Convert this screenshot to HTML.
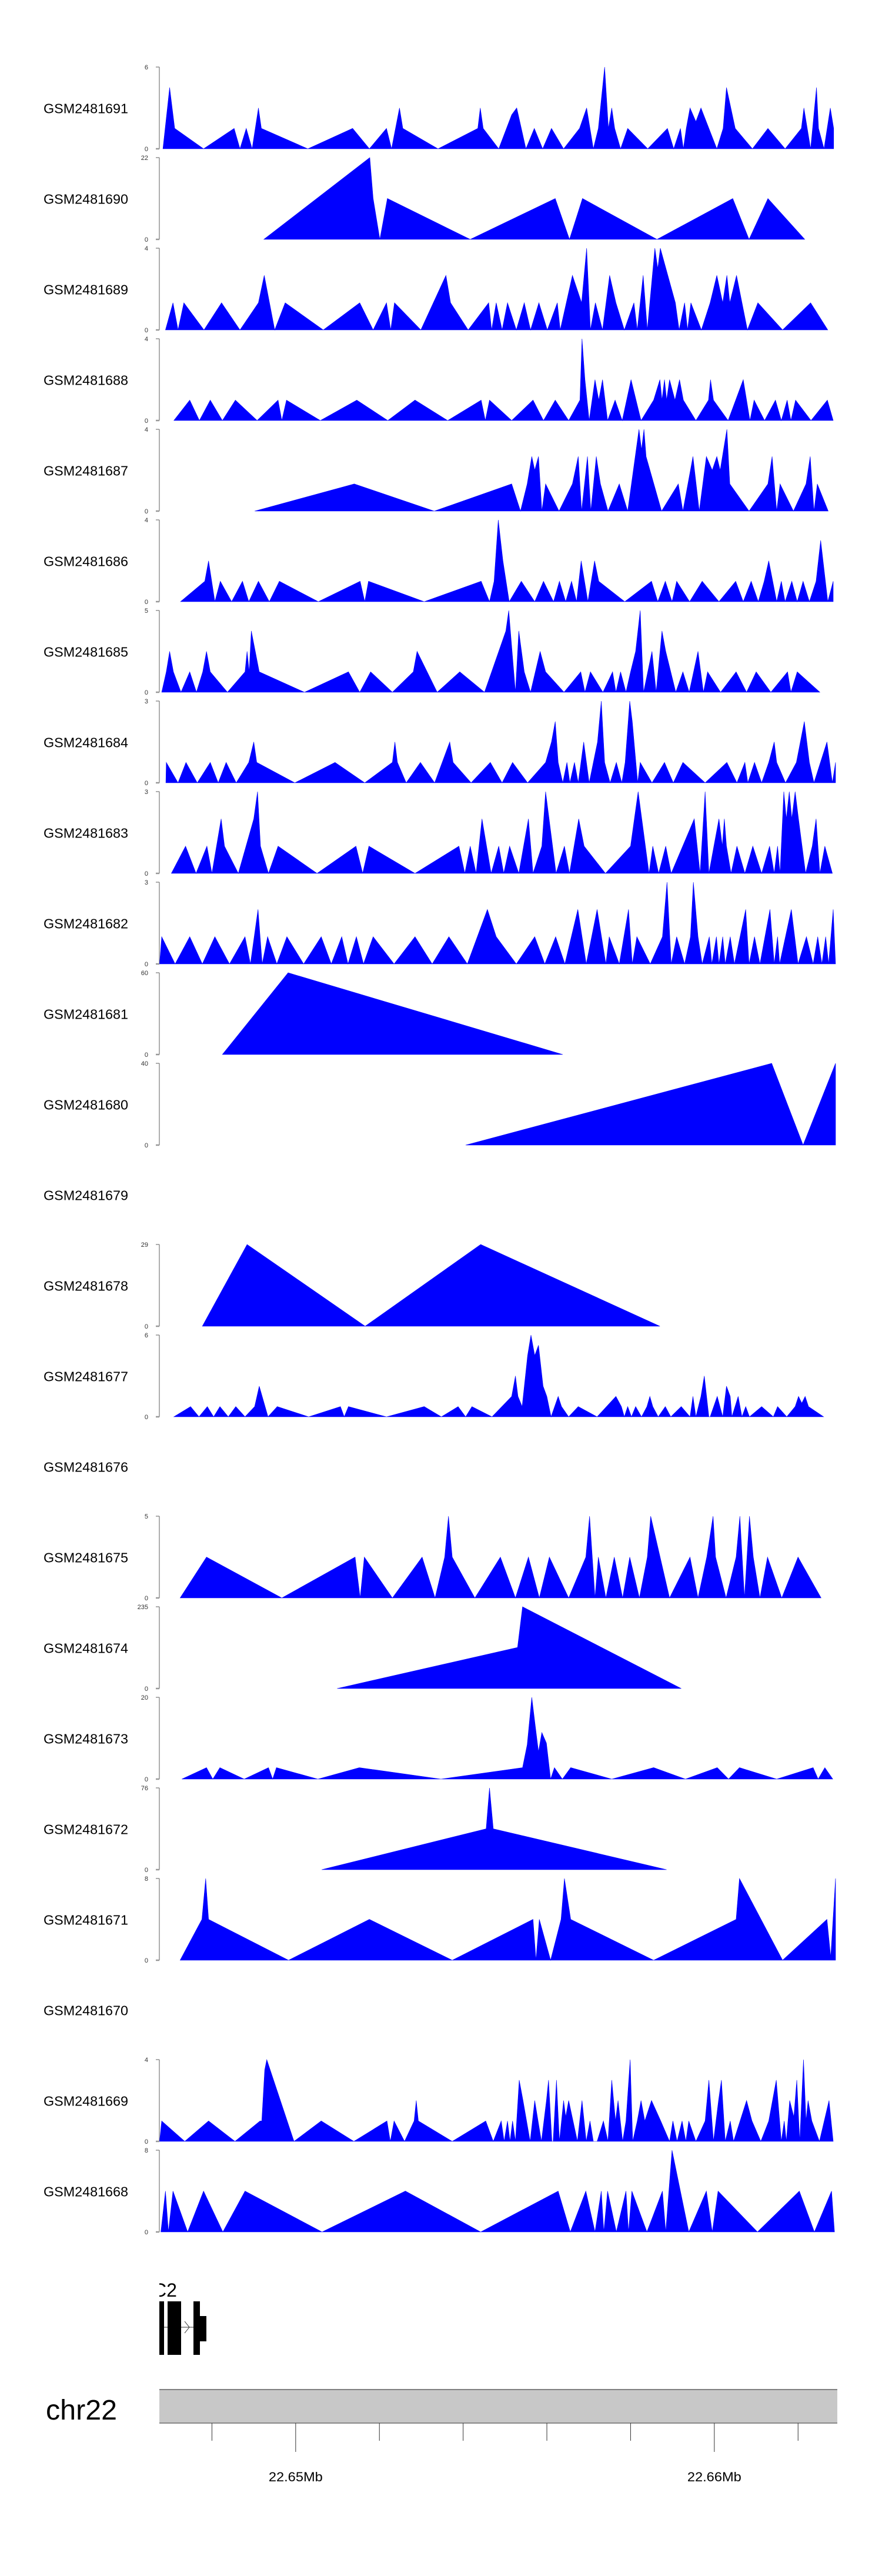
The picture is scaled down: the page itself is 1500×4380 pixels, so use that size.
<!DOCTYPE html>
<html><head><meta charset="utf-8"><title>GSM coverage tracks chr22</title>
<style>html,body{margin:0;padding:0;background:#fff}svg{display:block}</style></head>
<body>
<svg id="chart" xmlns="http://www.w3.org/2000/svg" width="1500" height="4380" viewBox="0 0 1500 4380" font-family="Liberation Sans, sans-serif"></svg>
<script>
// ---- data (positions in kb from chr22:22,646,800; values = coverage) ----
const trackNames = ["GSM2481691","GSM2481690","GSM2481689","GSM2481688","GSM2481687","GSM2481686","GSM2481685","GSM2481684","GSM2481683","GSM2481682","GSM2481681","GSM2481680","GSM2481679","GSM2481678","GSM2481677","GSM2481676","GSM2481675","GSM2481674","GSM2481673","GSM2481672","GSM2481671","GSM2481670","GSM2481669","GSM2481668"];
const trackMax = [6,22,4,4,4,4,5,3,3,3,60,40,0,29,6,0,5,235,20,76,8,0,4,8];
const regionStartKb = 22646.8;
const axisTicksMb = [22.648,22.65,22.652,22.654,22.656,22.658,22.66,22.662];
const axisLabelsMb = ["","22.65Mb","","","","","22.66Mb",""];

const t91=[[0.03,0],[0.19,4.5],[0.31,1.5],[1.0,0],[1.73,1.5],[1.87,0],[2.02,1.5],[2.16,0],[2.31,3],[2.38,1.5],[3.49,0],[4.56,1.5],[4.96,0],[5.37,1.5],[5.49,0],[5.68,3],[5.76,1.5],[6.6,0],[7.55,1.5],[7.61,3],[7.68,1.5],[8.05,0],[8.36,2.5],[8.48,3],[8.7,0],[8.9,1.5],[9.1,0],[9.31,1.5],[9.6,0],[9.98,1.5],[10.15,3],[10.31,0],[10.43,1.5],[10.58,6],[10.67,1.5],[10.75,3],[10.82,1.5],[10.96,0],[11.13,1.5],[11.61,0],[12.08,1.5],[12.23,0],[12.39,1.5],[12.46,0],[12.53,1.5],[12.62,3],[12.76,2],[12.88,3],[13.26,0],[13.41,1.5],[13.49,4.5],[13.7,1.5],[14.11,0],[14.48,1.5],[14.89,0],[15.28,1.5],[15.34,3],[15.5,0],[15.64,4.5],[15.69,1.5],[15.82,0],[15.97,3],[16.05,1.5]];
const t90=[[2.44,0],[4.97,22],[5.05,11],[5.21,0],[5.39,11],[7.37,0],[9.40,11],[9.74,0],[10.05,11],[11.83,0],[13.64,11],[14.03,0],[14.48,11],[15.36,0]];
const t89=[[0.09,0],[0.27,1.33],[0.39,0],[0.53,1.33],[1.01,0],[1.43,1.33],[1.87,0],[2.31,1.33],[2.45,2.67],[2.70,0],[2.95,1.33],[3.86,0],[4.73,1.33],[5.05,0],[5.37,1.33],[5.47,0],[5.56,1.33],[6.19,0],[6.79,2.67],[6.90,1.33],[7.32,0],[7.81,1.33],[7.88,0],[7.99,1.33],[8.13,0],[8.26,1.33],[8.47,0],[8.66,1.33],[8.81,0],[9.01,1.33],[9.21,0],[9.45,1.33],[9.52,0],[9.81,2.67],[10.03,1.33],[10.15,4],[10.24,0],[10.36,1.33],[10.53,0],[10.70,2.67],[10.85,1.33],[11.05,0],[11.28,1.33],[11.36,0],[11.50,2.67],[11.60,0],[11.78,4],[11.85,3],[11.91,4],[12.27,1.33],[12.36,0],[12.49,1.33],[12.56,0],[12.64,1.33],[12.89,0],[13.10,1.33],[13.26,2.67],[13.40,1.33],[13.50,2.67],[13.57,1.33],[13.73,2.67],[13.99,0],[14.24,1.33],[14.83,0],[15.50,1.33],[15.91,0]];
const t88=[[0.29,0],[0.67,1],[0.90,0],[1.16,1],[1.45,0],[1.76,1],[2.28,0],[2.78,1],[2.87,0],[2.98,1],[3.79,0],[4.66,1],[5.40,0],[6.05,1],[6.83,0],[7.63,1],[7.73,0],[7.83,1],[8.36,0],[8.87,1],[9.12,0],[9.40,1],[9.72,0],[9.99,1],[10.04,4],[10.11,2],[10.21,0],[10.35,2],[10.44,1],[10.53,2],[10.65,0],[10.83,1],[11.00,0],[11.21,2],[11.45,0],[11.75,1],[11.90,2],[11.95,1],[12.01,2],[12.06,1],[12.13,2],[12.26,1],[12.37,2],[12.46,1],[12.76,0],[13.06,1],[13.11,2],[13.18,1],[13.53,0],[13.89,2],[14.05,0],[14.15,1],[14.40,0],[14.66,1],[14.80,0],[14.94,1],[15.03,0],[15.14,1],[15.51,0],[15.90,1],[16.04,0]];
const t87=[[2.22,0],[4.60,1.33],[6.51,0],[8.36,1.33],[8.57,0],[8.73,1.33],[8.84,2.67],[8.91,2],[9.00,2.67],[9.08,0],[9.17,1.33],[9.49,0],[9.81,1.33],[9.95,2.67],[10.03,0],[10.17,2.67],[10.25,0],[10.38,2.67],[10.48,1.33],[10.66,0],[10.93,1.33],[11.13,0],[11.22,1.33],[11.40,4],[11.46,3],[11.52,4],[11.57,2.67],[11.94,0],[12.34,1.33],[12.45,0],[12.69,2.67],[12.84,0],[13.01,2.67],[13.15,2],[13.26,2.67],[13.34,2],[13.50,4],[13.57,1.33],[14.03,0],[14.48,1.33],[14.58,2.67],[14.69,0],[14.77,1.33],[15.09,0],[15.39,1.33],[15.49,2.67],[15.58,0],[15.66,1.33],[15.92,0]];
const t86=[[0.45,0],[1.03,1],[1.12,2],[1.27,0],[1.40,1],[1.67,0],[1.93,1],[2.08,0],[2.31,1],[2.57,0],[2.81,1],[3.74,0],[4.74,1],[4.85,0],[4.94,1],[6.27,0],[7.63,1],[7.83,0],[7.94,1],[8.04,4],[8.15,2],[8.30,0],[8.59,1],[8.91,0],[9.12,1],[9.36,0],[9.50,1],[9.65,0],[9.79,1],[9.91,0],[10.02,2],[10.18,0],[10.34,2],[10.44,1],[11.06,0],[11.70,1],[11.85,0],[12.03,1],[12.19,0],[12.30,1],[12.61,0],[12.91,1],[13.31,0],[13.71,1],[13.89,0],[14.08,1],[14.25,0],[14.39,1],[14.50,2],[14.69,0],[14.80,1],[14.89,0],[15.05,1],[15.18,0],[15.32,1],[15.47,0],[15.63,1],[15.74,3],[15.91,0],[16.04,1]];
const t85=[[0.0,0],[0.11,1.25],[0.19,2.5],[0.28,1.25],[0.46,0],[0.67,1.25],[0.83,0],[0.98,1.25],[1.07,2.5],[1.16,1.25],[1.57,0],[1.99,1.25],[2.04,2.5],[2.09,1.25],[2.14,3.75],[2.33,1.25],[3.41,0],[4.46,1.25],[4.73,0],[4.99,1.25],[5.51,0],[6.01,1.25],[6.10,2.5],[6.58,0],[7.12,1.25],[7.71,0],[8.22,3.75],[8.29,5],[8.45,0],[8.53,3.75],[8.66,1.25],[8.81,0],[9.04,2.5],[9.17,1.25],[9.61,0],[10.01,1.25],[10.11,0],[10.24,1.25],[10.54,0],[10.77,1.25],[10.85,0],[10.96,1.25],[11.09,0],[11.20,1.25],[11.32,2.5],[11.43,5],[11.51,0],[11.71,2.5],[11.81,0],[11.95,3.75],[12.04,2.5],[12.28,0],[12.45,1.25],[12.60,0],[12.81,2.5],[12.94,0],[13.04,1.25],[13.35,0],[13.72,1.25],[13.97,0],[14.20,1.25],[14.55,0],[14.95,1.25],[15.03,0],[15.18,1.25],[15.72,0]];
const t84=[[0.10,0],[0.11,0.75],[0.39,0],[0.58,0.75],[0.85,0],[1.16,0.75],[1.35,0],[1.54,0.75],[1.78,0],[2.08,0.75],[2.20,1.5],[2.27,0.75],[3.18,0],[4.14,0.75],[4.85,0],[5.51,0.75],[5.57,1.5],[5.63,0.75],[5.84,0],[6.18,0.75],[6.52,0],[6.88,1.5],[6.96,0.75],[7.39,0],[7.85,0.75],[8.13,0],[8.38,0.75],[8.74,0],[9.17,0.75],[9.31,1.5],[9.40,2.25],[9.47,0.75],[9.58,0],[9.68,0.75],[9.75,0],[9.86,0.75],[9.95,0],[10.08,1.5],[10.21,0],[10.41,1.5],[10.50,3],[10.58,0.75],[10.71,0],[10.86,0.75],[10.99,0],[11.07,0.75],[11.18,3],[11.24,2.25],[11.37,0],[11.43,0.75],[11.71,0],[12.01,0.75],[12.22,0],[12.45,0.75],[12.98,0],[13.50,0.75],[13.74,0],[13.93,0.75],[14.00,0],[14.16,0.75],[14.33,0],[14.50,0.75],[14.63,1.5],[14.69,0.75],[14.90,0],[15.16,0.75],[15.35,2.25],[15.47,0.75],[15.58,0],[15.89,1.5],[16.02,0],[16.10,0.75]];
const t83=[[0.23,0],[0.57,1],[0.82,0],[1.08,1],[1.20,0],[1.42,2],[1.50,1],[1.83,0],[2.20,2],[2.29,3],[2.36,1],[2.55,0],[2.78,1],[3.71,0],[4.64,1],[4.80,0],[4.95,1],[6.05,0],[7.10,1],[7.24,0],[7.37,1],[7.51,0],[7.65,2],[7.87,0],[8.05,1],[8.17,0],[8.31,1],[8.53,0],[8.76,2],[8.87,0],[9.08,1],[9.17,3],[9.42,0],[9.62,1],[9.74,0],[9.96,2],[10.09,1],[10.60,0],[11.20,1],[11.38,3],[11.64,0],[11.73,1],[11.87,0],[12.04,1],[12.17,0],[12.72,2],[12.86,0],[12.98,3],[13.07,0],[13.19,1],[13.31,2],[13.39,1],[13.44,2],[13.49,1],[13.60,0],[13.74,1],[13.93,0],[14.12,1],[14.33,0],[14.52,1],[14.63,0],[14.71,1],[14.77,0],[14.86,3],[14.92,2],[14.99,3],[15.05,2],[15.13,3],[15.21,2],[15.38,0],[15.54,1],[15.63,2],[15.72,0],[15.84,1],[16.02,0]];
const t82=[[-0.05,0],[0.0,1],[0.32,0],[0.67,1],[0.97,0],[1.27,1],[1.62,0],[1.99,1],[2.12,0],[2.30,2],[2.40,0],[2.53,1],[2.75,0],[2.99,1],[3.39,0],[3.81,1],[4.05,0],[4.30,1],[4.45,0],[4.65,1],[4.82,0],[5.05,1],[5.55,0],[6.05,1],[6.46,0],[6.86,1],[7.30,0],[7.78,2],[7.99,1],[8.47,0],[8.91,1],[9.15,0],[9.41,1],[9.63,0],[9.94,2],[10.14,0],[10.40,2],[10.61,0],[10.69,1],[10.93,0],[11.15,2],[11.24,0],[11.35,1],[11.67,0],[11.96,1],[12.07,3],[12.17,0],[12.30,1],[12.49,0],[12.63,1],[12.70,3],[12.81,1],[12.91,0],[13.08,1],[13.14,0],[13.25,1],[13.31,0],[13.40,1],[13.46,0],[13.58,1],[13.68,0],[13.95,2],[14.03,0],[14.16,1],[14.29,0],[14.53,2],[14.63,0],[14.71,1],[14.76,0],[15.04,2],[15.20,0],[15.40,1],[15.56,0],[15.67,1],[15.77,0],[15.86,1],[15.93,0],[16.04,2],[16.10,0]];
const t81=[[1.45,0],[3.02,60],[9.58,0]];
const t80=[[7.26,0],[14.57,40],[15.32,0],[16.10,40]];
const t78=[[0.97,0],[2.04,29],[4.86,0],[7.62,29],[11.90,0]];
const t77=[[0.29,0],[0.69,0.75],[0.89,0],[1.09,0.75],[1.24,0],[1.39,0.75],[1.59,0],[1.77,0.75],[1.99,0],[2.22,0.75],[2.33,2.25],[2.54,0],[2.76,0.75],[3.51,0],[4.27,0.75],[4.36,0],[4.46,0.75],[5.37,0],[6.27,0.75],[6.68,0],[7.08,0.75],[7.26,0],[7.41,0.75],[7.89,0],[8.36,1.5],[8.45,3],[8.51,1.5],[8.61,0.75],[8.74,4.5],[8.82,6],[8.91,4.5],[9.00,5.25],[9.11,2.25],[9.20,1.5],[9.30,0],[9.47,1.5],[9.55,0.75],[9.72,0],[9.95,0.75],[10.40,0],[10.85,1.5],[10.98,0.75],[11.05,0],[11.13,0.75],[11.22,0],[11.32,0.75],[11.46,0],[11.59,0.75],[11.66,1.5],[11.73,0.75],[11.86,0],[12.03,0.75],[12.16,0],[12.41,0.75],[12.62,0],[12.69,1.5],[12.76,0],[12.88,1.5],[12.96,3],[13.07,0],[13.10,0],[13.27,1.5],[13.40,0],[13.49,2.25],[13.58,1.5],[13.62,0],[13.77,1.5],[13.86,0],[13.95,0.75],[14.04,0],[14.33,0.75],[14.61,0],[14.71,0.75],[14.93,0],[15.13,0.75],[15.21,1.5],[15.29,1],[15.37,1.5],[15.45,0.75],[15.81,0]];
const t75=[[0.44,0],[1.07,2.5],[2.87,0],[4.62,2.5],[4.74,0],[4.84,2.5],[5.51,0],[6.22,2.5],[6.53,0],[6.76,2.5],[6.85,5],[6.94,2.5],[7.48,0],[8.09,2.5],[8.45,0],[8.76,2.5],[9.02,0],[9.26,2.5],[9.72,0],[10.13,2.5],[10.22,5],[10.35,0],[10.43,2.5],[10.61,0],[10.81,2.5],[11.01,0],[11.18,2.5],[11.41,0],[11.60,2.5],[11.68,5],[12.13,0],[12.62,2.5],[12.81,0],[13.02,2.5],[13.17,5],[13.23,2.5],[13.48,0],[13.72,2.5],[13.81,5],[13.92,0],[14.04,5],[14.13,2.5],[14.29,0],[14.47,2.5],[14.81,0],[15.20,2.5],[15.75,0]];
const t74=[[4.19,0],[8.50,118],[8.62,235],[12.41,0]];
const t73=[[0.48,0],[1.07,2.8],[1.22,0],[1.39,2.8],[1.97,0],[2.55,2.8],[2.65,0],[2.74,2.8],[3.73,0],[4.72,2.8],[6.67,0],[8.62,2.8],[8.73,8.4],[8.84,20],[8.92,13.3],[9.00,6.7],[9.08,11.4],[9.19,8.8],[9.29,0],[9.38,2.8],[9.57,0],[9.77,2.8],[10.75,0],[11.75,2.8],[12.51,0],[13.27,2.8],[13.54,0],[13.80,2.8],[14.69,0],[15.56,2.8],[15.68,0],[15.84,2.8],[16.03,0]];
const t72=[[3.82,0],[7.75,38],[7.83,76],[7.92,38],[12.06,0]];
const t71=[[0.44,0],[0.96,4],[1.05,8],[1.12,4],[3.03,0],[4.96,4],[6.94,0],[8.87,4],[8.94,0],[9.02,4],[9.29,0],[9.54,4],[9.62,8],[9.77,4],[11.75,0],[13.72,4],[13.80,8],[14.83,0],[15.89,4],[15.98,0.3],[16.10,8]];
const t69=[[-0.05,0],[0.0,1],[0.55,0],[1.12,1],[1.75,0],[2.35,1],[2.39,1],[2.46,3.5],[2.51,4],[3.16,0],[3.81,1],[4.59,0],[5.38,1],[5.46,0],[5.55,1],[5.80,0],[6.03,1],[6.08,2],[6.13,1],[6.94,0],[7.74,1],[7.92,0],[8.11,1],[8.18,0],[8.26,1],[8.32,0],[8.38,1],[8.45,0],[8.54,3],[8.63,2],[8.80,0],[8.91,2],[9.07,0],[9.19,2],[9.24,3],[9.32,0],[9.35,0],[9.43,3],[9.50,0],[9.60,2],[9.65,1.2],[9.72,2],[9.93,0],[10.04,2],[10.14,0],[10.23,1],[10.31,0],[10.40,0],[10.55,1],[10.66,0],[10.75,3],[10.84,1],[10.90,2],[11.01,0],[11.09,1],[11.19,4],[11.25,0],[11.36,1],[11.45,2],[11.54,1],[11.70,2],[11.92,1],[12.13,0],[12.21,1],[12.31,0],[12.43,1],[12.52,0],[12.59,1],[12.76,0],[12.98,1],[13.07,3],[13.18,0],[13.30,2],[13.37,3],[13.46,0],[13.58,1],[13.66,0],[13.97,2],[14.10,1],[14.31,0],[14.50,1],[14.68,3],[14.80,0],[14.87,1],[14.92,0],[15.00,2],[15.10,1.2],[15.17,3],[15.24,0],[15.33,4],[15.39,1],[15.44,2],[15.53,1],[15.71,0],[15.94,2],[16.04,0]];
const t68=[[-0.02,0],[0.09,4],[0.16,0],[0.27,4],[0.62,0],[1.00,4],[1.46,0],[1.99,4],[3.83,0],[5.82,4],[7.62,0],[9.47,4],[9.76,0],[10.13,4],[10.35,0],[10.50,4],[10.56,0],[10.65,4],[10.86,0],[11.09,4],[11.15,0],[11.23,4],[11.59,0],[11.96,4],[12.04,0],[12.19,8],[12.59,0],[13.01,4],[13.15,0],[13.29,4],[14.23,0],[15.23,4],[15.59,0],[16.00,4],[16.07,0]];
const trackData=[t91,t90,t89,t88,t87,t86,t85,t84,t83,t82,t81,t80,null,t78,t77,null,t75,t74,t73,t72,t71,null,t69,t68];

// ---- layout ----
const NS="http://www.w3.org/2000/svg";
const svg=document.getElementById('chart');
const X0=275, PXKB=71.2, XMIN=271, XMAX=1421;
const TOP0=114, PITCH=154, TH=139;
function xScale(kb){return Math.max(XMIN,Math.min(XMAX,X0+PXKB*kb));}
function mk(tag,attrs,parent){const e=document.createElementNS(NS,tag);for(const k in attrs)e.setAttribute(k,attrs[k]);(parent||svg).appendChild(e);return e;}

trackNames.forEach((name,i)=>{
  const top=TOP0+PITCH*i, bottom=top+TH;
  const g=mk('g',{});
  
  
  const lab=mk('text',{x:74,y:top+TH/2+9,'font-size':23,textLength:144,lengthAdjust:'spacingAndGlyphs',fill:'#000'},g);
  lab.textContent=name;
  
  
  const data=trackData[i];
  if(!data) return;
  const mx=trackMax[i];
  const yScale=v=>bottom-(v/mx)*TH;
  const ax=mk('g',{},g);
  
  
  mk('line',{x1:271,y1:top,x2:271,y2:bottom,stroke:'#777','stroke-width':1.2},ax);
  mk('line',{x1:265,y1:top,x2:271,y2:top,stroke:'#777','stroke-width':1.2},ax);
  mk('line',{x1:265,y1:bottom,x2:271,y2:bottom,stroke:'#999','stroke-width':2.5},ax);
  const tMax=mk('text',{x:252,y:top+4,'font-size':11,'text-anchor':'end',fill:'#333'},ax);
  tMax.textContent=String(mx);
  
  
  const tZero=mk('text',{x:252,y:bottom+4,'font-size':11,'text-anchor':'end',fill:'#333'},ax);
  tZero.textContent='0';
  
  
  let pts=[[xScale(data[0][0]),bottom]];
  data.forEach(d=>pts.push([xScale(d[0]),yScale(d[1])]));
  pts.push([xScale(data[data.length-1][0]),bottom]);
  const poly=mk('polygon',{points:pts.map(p=>p[0].toFixed(1)+','+p[1].toFixed(1)).join(' '),fill:'#0000ff',stroke:'#0000ff','stroke-width':0.6,'stroke-linejoin':'miter'},g);
  
  
});

// ---- gene track ----
const gene=mk('g',{});


mk('clipPath',{id:'gclip'},gene).appendChild((()=>{const r=document.createElementNS(NS,'rect');r.setAttribute('x',271);r.setAttribute('y',3800);r.setAttribute('width',1200);r.setAttribute('height',250);return r;})());
const gname=mk('text',{x:260,y:3905,'font-size':32,fill:'#000','clip-path':'url(#gclip)'},gene);
gname.textContent='C2';


mk('line',{x1:279,y1:3957,x2:329,y2:3957,stroke:'#333','stroke-width':1},gene);
mk('polyline',{points:'314,3947 322,3957 314,3967',fill:'none',stroke:'#333','stroke-width':1},gene);
[[271,279],[285,308],[329,340]].forEach(b=>{
  const r=mk('rect',{x:b[0],y:3913,width:b[1]-b[0],height:91,fill:'#000'},gene);
  
  
});
const utr=mk('rect',{x:340,y:3938,width:11,height:43,fill:'#000'},gene);



// ---- chromosome / genome axis ----
const chr=mk('text',{x:78,y:4114,'font-size':48,textLength:121,lengthAdjust:'spacingAndGlyphs',fill:'#000'});
chr.textContent='chr22';


const bar=mk('rect',{x:271,y:4063,width:1153,height:57,fill:'#c8c8c8'});


mk('line',{x1:271,y1:4063,x2:1424,y2:4063,stroke:'#808080','stroke-width':2});
mk('line',{x1:271,y1:4120,x2:1424,y2:4120,stroke:'#555','stroke-width':1.2});
axisTicksMb.forEach((mb,i)=>{
  const x=xScale((mb*1000)-regionStartKb);
  const major=axisLabelsMb[i]!=='';
  const t=mk('line',{x1:x,y1:4120,x2:x,y2:major?4169:4150,stroke:'#333','stroke-width':1});
  
  
  if(major){
    const l=mk('text',{x:x,y:4219,'font-size':22,'text-anchor':'middle',textLength:92,lengthAdjust:'spacingAndGlyphs',fill:'#000'});
    l.textContent=axisLabelsMb[i];
    
    
  }
});
</script>
</body></html>
